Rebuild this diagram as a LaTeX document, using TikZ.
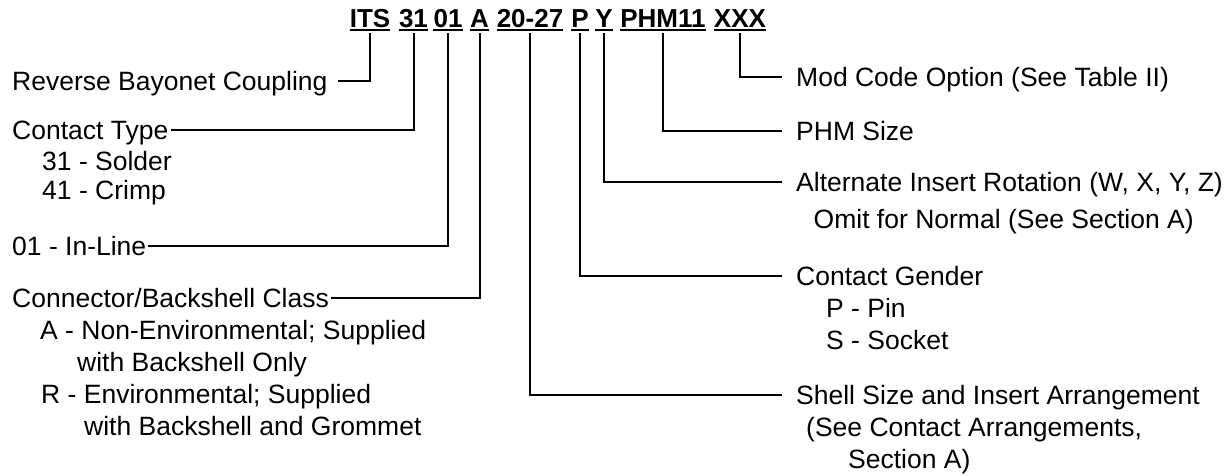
\documentclass[tikz,border=0pt]{standalone}
\usepackage{fontspec}
\setmainfont{Liberation Sans}
\begin{document}
\begin{tikzpicture}[x=1pt,y=-1pt,
  ttl/.style={font=\fontsize{26}{30}\selectfont\bfseries, inner sep=0pt, anchor=base, text height=18.6pt, text depth=0pt},
  lbl/.style={font=\fontsize{26.5}{31}\selectfont, inner sep=0pt, anchor=base west, text height=19pt, text depth=0pt},
  conn/.style={line width=2pt, line join=miter},
  uline/.style={line width=2pt}]
\useasboundingbox (0,0) rectangle (1232,476);
% title words
\node[ttl] (its)  at (370,27.5)   {ITS};
\node[ttl] (w31)  at (413.5,27.5) {31};
\node[ttl] (w01)  at (448,27.5)   {01};
\node[ttl] (wA)   at (479.5,27.5) {A};
\node[ttl] (wsz)  at (530,27.5)   {20-27};
\node[ttl] (wP)   at (580,27.5)   {P};
\node[ttl] (wY)   at (604,27.5)   {Y};
\node[ttl] (wphm) at (663,27.5)   {PHM11};
\node[ttl] (wX)   at (740,27.5)   {XXX};
\foreach \n in {its,w31,w01,wA,wsz,wP,wY,wphm,wX}
  \draw[uline] ([yshift=-2.5pt]\n.base west) -- ([yshift=-2.5pt]\n.base east);
% left labels
\node[lbl] (rbc) at (12,90.5)  {Reverse Bayonet Coupling};
\node[lbl] (ct)  at (12,140)   {Contact Type};
\node[lbl] (s31) at (42,171)   {31 - Solder};
\node[lbl] (c41) at (42,200)   {41 - Crimp};
\node[lbl] (inl) at (12,255.5) {01 - In-Line};
\node[lbl] (cbc) at (12,307.5) {Connector/Backshell Class};
\node[lbl] (a1)  at (40,339)   {A - Non-Environmental; Supplied};
\node[lbl] (a2)  at (77,371)   {with Backshell Only};
\node[lbl] (r1)  at (41,403)   {R - Environmental; Supplied};
\node[lbl] (r2)  at (84,435)   {with Backshell and Grommet};
% right labels
\node[lbl] (mod)  at (796,86.5)  {Mod Code Option (See Table II)};
\node[lbl] (phm)  at (796,140.5) {PHM Size};
\node[lbl] (alt)  at (796,191.5) {Alternate Insert Rotation (W, X, Y, Z)};
\node[lbl] (omit) at (813.5,228) {Omit for Normal (See Section A)};
\node[lbl] (cg)   at (796,285.5) {Contact Gender};
\node[lbl] (pin)  at (826,317)   {P - Pin};
\node[lbl] (sock) at (826,349)   {S - Socket};
\node[lbl] (ssz)  at (796,404.5) {Shell Size and Insert Arrangement};
\node[lbl] (see)  at (806,436)   {(See Contact Arrangements,};
\node[lbl] (secA) at (848,468)   {Section A)};
% connectors
\draw[conn] ([yshift=-5.5pt]its.base)  |- ([xshift=10pt]rbc.east);
\draw[conn] ([yshift=-5.5pt]w31.base)  |- ([xshift=2pt]ct.east);
\draw[conn] ([yshift=-5.5pt]w01.base)  |- ([xshift=2pt]inl.east);
\draw[conn] ([yshift=-5.5pt]wA.base)   |- ([xshift=2pt]cbc.east);
\draw[conn] ([yshift=-5.5pt]wsz.base)  |- ([xshift=-14pt]ssz.west);
\draw[conn] ([yshift=-5.5pt]wP.base)   |- ([xshift=-14pt]cg.west);
\draw[conn] ([yshift=-5.5pt]wY.base)   |- ([xshift=-14pt]alt.west);
\draw[conn] ([yshift=-5.5pt]wphm.base) |- ([xshift=-14pt]phm.west);
\draw[conn] ([yshift=-5.5pt]wX.base)   |- ([xshift=-14pt]mod.west);
\end{tikzpicture}
\end{document}
